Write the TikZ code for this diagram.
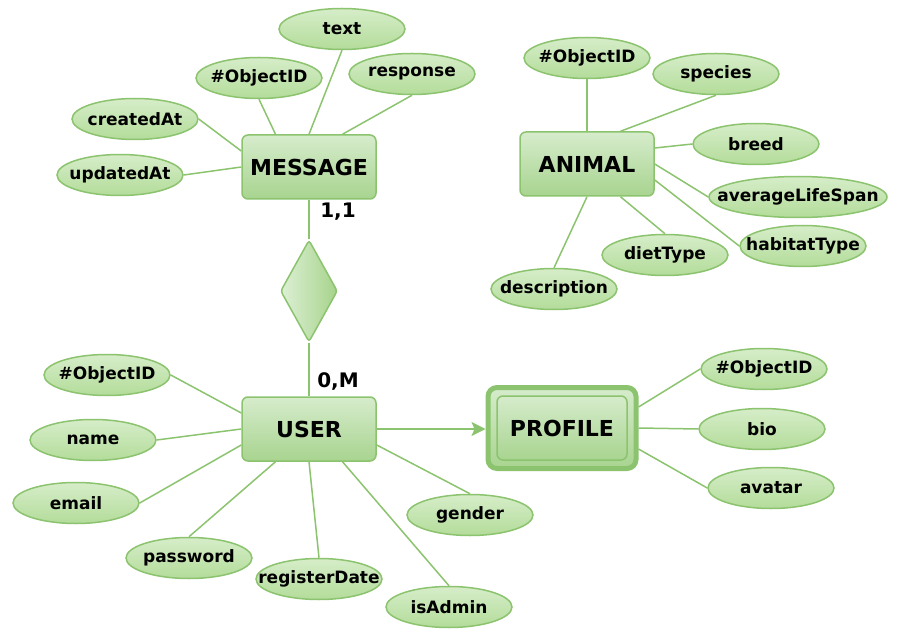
\documentclass[tikz,border=0pt]{standalone}
\usepackage{fontspec}
\setmainfont{DejaVu Sans}
\usepackage{tikz}
\usetikzlibrary{shapes.geometric}
\usetikzlibrary{arrows.meta}

\definecolor{erline}{HTML}{8CC36E}
\definecolor{entop}{HTML}{D6ECCC}
\definecolor{enbot}{HTML}{A8D48F}
\definecolor{attop}{HTML}{D6EDC9}
\definecolor{atbot}{HTML}{B3DC9A}
\definecolor{rlleft}{HTML}{DDF0D5}
\definecolor{rlright}{HTML}{A6D38B}

\newcommand{\fld}[1]{\makebox[0pt]{#1}}

\begin{document}
\begin{tikzpicture}[x=1pt,y=-1pt,
  entity/.style={draw=erline, line width=1.5pt, rounded corners=6pt,
    top color=entop, bottom color=enbot,
    minimum width=134pt, minimum height=64pt,
    font=\fontsize{22}{26}\selectfont\bfseries},
  weakframe/.style={draw=erline, line width=5pt, rounded corners=9pt,
    top color=entop, bottom color=enbot,
    minimum width=148pt, minimum height=81pt},
  attr/.style={ellipse, draw=erline, line width=1.5pt,
    top color=attop, bottom color=atbot,
    minimum width=126pt, minimum height=41pt, inner sep=0pt,
    font=\fontsize{17}{20}\selectfont\bfseries},
  rel/.style={diamond, draw=erline, line width=1.5pt, rounded corners=3pt,
    left color=rlleft, right color=rlright,
    minimum width=57pt, minimum height=102pt, inner sep=0pt},
  card/.style={font=\fontsize{20}{24}\selectfont\bfseries},
  link/.style={draw=erline, line width=1.5pt}]

\useasboundingbox (0,0) rectangle (900,631);

% entities
\node[entity] (msg) at (309,167) {MESSAGE};
\node[entity] (anm) at (587,164) {ANIMAL};
\node[entity] (usr) at (309,429) {USER};
\node[weakframe] (pframe) at (562,428) {};
\node[entity, minimum width=130pt, minimum height=64pt] (prof) at (562,428) {PROFILE};
\node[rel] (rel) at (309,291) {};

% message attributes
\node[attr] (mtext) at (342,29) {\fld{text}};
\node[attr] (mid) at (259,78) {\fld{\#ObjectID}};
\node[attr] (mresp) at (412,74) {\fld{response}};
\node[attr] (mcreated) at (135,119) {\fld{createdAt}};
\node[attr] (mupdated) at (120,175) {\fld{updatedAt}};

% animal attributes
\node[attr] (aid) at (587,58) {\fld{\#ObjectID}};
\node[attr] (aspecies) at (716,74) {\fld{species}};
\node[attr] (abreed) at (756,144) {\fld{breed}};
\node[attr, minimum width=178pt] (alife) at (798,197) {\fld{averageLifeSpan}};
\node[attr] (ahabitat) at (803,246) {\fld{habitatType}};
\node[attr] (adiet) at (665,255) {\fld{dietType}};
\node[attr] (adesc) at (554,289) {\fld{description}};

% user attributes
\node[attr] (uid) at (107,375) {\fld{\#ObjectID}};
\node[attr] (uname) at (93,440) {\fld{name}};
\node[attr] (uemail) at (76,503) {\fld{email}};
\node[attr] (upass) at (189,558) {\fld{password}};
\node[attr] (udate) at (319,579) {\fld{registerDate}};
\node[attr] (uadmin) at (449,607) {\fld{isAdmin}};
\node[attr] (ugender) at (470,515) {\fld{gender}};

% profile attributes
\node[attr] (pid) at (764,369) {\fld{\#ObjectID}};
\node[attr] (pbio) at (762,429) {\fld{bio}};
\node[attr] (pavatar) at (771,488) {\fld{avatar}};

% cardinalities
\node[card] (c11) at (338,212) {1,1};
\node[card] (c0m) at (338,381) {0,M};

\draw[link] (mtext.south) -- (msg.north);
\draw[link] (mid.south) -- ([xshift=-33.5pt]msg.north);
\draw[link] (mresp.south) -- ([xshift=33.5pt]msg.north);
\draw[link] (mcreated.east) -- ([yshift=16pt]msg.west);
\draw[link] (mupdated.east) -- (msg.west);

\draw[link] (aid.south) -- (anm.north);
\draw[link] (aspecies.south) -- ([xshift=33.5pt]anm.north);
\draw[link] (abreed.west) -- ([yshift=16pt]anm.east);
\draw[link] (alife.west) -- (anm.east);
\draw[link] (ahabitat.west) -- ([yshift=-16pt]anm.east);
\draw[link] (adiet.north) -- ([xshift=33.5pt]anm.south);
\draw[link] (adesc.north) -- (anm.south);

\draw[link] (uid.east) -- ([yshift=16pt]usr.west);
\draw[link] (uname.east) -- (usr.west);
\draw[link] (uemail.east) -- ([yshift=-16pt]usr.west);
\draw[link] (upass.north) -- ([xshift=-33.5pt]usr.south);
\draw[link] (udate.north) -- (usr.south);
\draw[link] (uadmin.north) -- ([xshift=33.5pt]usr.south);
\draw[link] (ugender.north) -- ([yshift=-16pt]usr.east);

\draw[link] (pid.west) -- ([yshift=21pt]pframe.east);
\draw[link] (pbio.west) -- (pframe.east);
\draw[link] (pavatar.west) -- ([yshift=-21pt]pframe.east);

% relationship
\draw[link] (msg.south) -- (rel.north);
\draw[link] (rel.south) -- (usr.north);
\draw[link, -{Stealth[length=14pt, width=14pt, inset=3pt]}] (usr.east) -- (usr.east -| pframe.west);

\end{tikzpicture}
\end{document}
